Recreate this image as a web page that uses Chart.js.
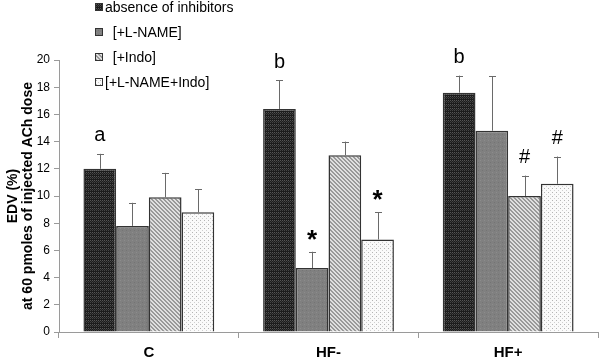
<!DOCTYPE html>
<html>
<head>
<meta charset="utf-8">
<script src="https://cdn.jsdelivr.net/npm/chart.js@4.4.1/dist/chart.umd.min.js"></script>
<style>
  html, body { margin: 0; padding: 0; background: #fff; }
  #wrap { width: 600px; height: 360px; position: relative; }
</style>
</head>
<body>
<div id="wrap"><canvas id="chart" width="600" height="360"></canvas></div>
<script>
'use strict';

// ---- Data ----
const categories  = ['C', 'HF-', 'HF+'];
const seriesNames = ['absence of inhibitors', '  [+L-NAME]', '  [+Indo]', '[+L-NAME+Indo]'];

const meanAbsent = [12.0, 16.4, 17.6];
const meanLName  = [7.8, 4.7, 14.8];
const meanIndo   = [9.9, 13.0, 10.0];
const meanBoth   = [8.8, 6.8, 10.9];

const errAbsent = [1.1, 2.1, 1.25];
const errLName  = [1.7, 1.2, 4.0];
const errIndo   = [1.8, 1.0, 1.5];
const errBoth   = [1.7, 2.0, 2.0];

// significance marks drawn above the error bars
const markAbsent = ['a', 'b', 'b'];
const markLName  = ['', '*', ''];
const markIndo   = ['', '', '#'];
const markBoth   = ['', '*', '#'];

const yTicks = [0, 2, 4, 6, 8, 10, 12, 14, 16, 18, 20];

// ---- Fill patterns ----
function makePattern(size, draw) {
  const c = document.createElement('canvas');
  c.width = size; c.height = size;
  const g = c.getContext('2d');
  draw(g);
  return g.createPattern(c, 'repeat');
}
function px(g, x, y, col) { g.fillStyle = col; g.fillRect(x, y, 1, 1); }

const patDark = makePattern(4, g => {
  g.fillStyle = '#1c1c1c'; g.fillRect(0, 0, 4, 4);
  px(g, 0, 0, '#555'); px(g, 2, 0, '#555');
  px(g, 1, 1, '#3a3a3a'); px(g, 3, 1, '#3a3a3a');
  px(g, 0, 2, '#444'); px(g, 2, 2, '#444');
});
const patGray = makePattern(4, g => {
  g.fillStyle = '#808080'; g.fillRect(0, 0, 4, 4);
  px(g, 0, 0, '#8c8c8c'); px(g, 2, 2, '#747474');
});
const patStripe = makePattern(4, g => {
  for (let x = 0; x < 4; x++) {
    for (let y = 0; y < 4; y++) {
      const d = ((x - y) % 4 + 4) % 4;
      px(g, x, y, d < 2 ? '#999999' : '#e0e0e0');
    }
  }
});
const patDots = makePattern(4, g => {
  g.fillStyle = '#fafafa'; g.fillRect(0, 0, 4, 4);
  px(g, 0, 0, '#b4b4b4'); px(g, 2, 2, '#cfcfcf');
});

const fills = [patDark, patGray, patStripe, patDots];
const means = [meanAbsent, meanLName, meanIndo, meanBoth];
const errs  = [errAbsent, errLName, errIndo, errBoth];
const marks = [markAbsent, markLName, markIndo, markBoth];

const FONT = 'Arial, "Liberation Sans", sans-serif';

// ---- Error bars + marks ----
const errorBarPlugin = {
  id: 'errorBars',
  afterDatasetsDraw(chart) {
    const ctx = chart.ctx;
    const y = chart.scales.y;
    ctx.save();
    chart.data.datasets.forEach((ds, di) => {
      const meta = chart.getDatasetMeta(di);
      meta.data.forEach((bar, i) => {
        const top = y.getPixelForValue(means[di][i] + errs[di][i]);
        ctx.strokeStyle = '#6a6a6a';
        ctx.lineWidth = 1;
        ctx.beginPath();
        ctx.moveTo(Math.round(bar.x) + 0.5, bar.y);
        ctx.lineTo(Math.round(bar.x) + 0.5, top);
        ctx.moveTo(Math.round(bar.x) - 3, Math.round(top) + 0.5);
        ctx.lineTo(Math.round(bar.x) + 4, Math.round(top) + 0.5);
        ctx.stroke();

        const m = marks[di][i];
        if (m) {
          ctx.fillStyle = '#000';
          ctx.textAlign = 'center';
          ctx.textBaseline = 'middle';
          if (m === '*') {
            ctx.font = 'bold 26px ' + FONT;
            ctx.fillText(m, bar.x, top - 11);
          } else {
            ctx.font = '20px ' + FONT;
            ctx.fillText(m, bar.x, top - 18);
          }
        }
      });
    });
    ctx.restore();
  }
};

// ---- Legend drawn in the upper left ----
const legendPlugin = {
  id: 'floatLegend',
  afterDraw(chart) {
    const ctx = chart.ctx;
    ctx.save();
    ctx.font = '14px ' + FONT;
    ctx.textBaseline = 'middle';
    ctx.textAlign = 'left';
    chart.data.datasets.forEach((ds, i) => {
      const cy = 7 + i * 25;
      ctx.fillStyle = ds.backgroundColor;
      ctx.fillRect(95, cy - 4, 8, 8);
      ctx.strokeStyle = '#333';
      ctx.lineWidth = 1;
      ctx.strokeRect(95.5, cy - 3.5, 7, 7);
      ctx.fillStyle = '#000';
      ctx.fillText(ds.label, 105, cy + 1);
    });
    ctx.restore();
  }
};

const datasets = seriesNames.map((name, i) => ({
  label: name,
  data: means[i],
  backgroundColor: fills[i],
  borderColor: '#333',
  borderWidth: 1.5,
  borderSkipped: 'bottom',
  barPercentage: 1.0,
  categoryPercentage: 0.728
}));

new Chart(document.getElementById('chart'), {
  type: 'bar',
  data: { labels: categories, datasets },
  plugins: [errorBarPlugin, legendPlugin],
  options: {
    responsive: false,
    animation: false,
    devicePixelRatio: 1,
    layout: { padding: { top: 60, right: 2, left: 0, bottom: 0 } },
    plugins: {
      legend: { display: false },
      tooltip: { enabled: false }
    },
    scales: {
      x: {
        grid: {
          offset: true,
          drawOnChartArea: false,
          drawTicks: true,
          tickLength: 6,
          color: '#9a9a9a'
        },
        border: { color: '#9a9a9a', width: 1 },
        ticks: {
          color: '#000',
          padding: 6,
          font: { family: FONT, size: 15, weight: 'bold' }
        },
        afterFit: s => { s.height = 28; }
      },
      y: {
        min: 0,
        max: 20,
        afterBuildTicks: s => { s.ticks = yTicks.map(v => ({ value: v })); },
        grid: {
          drawOnChartArea: false,
          drawTicks: true,
          tickLength: 5,
          color: '#9a9a9a'
        },
        border: { color: '#9a9a9a', width: 1 },
        ticks: {
          color: '#000',
          padding: 4,
          font: { family: FONT, size: 12 }
        },
        title: {
          display: true,
          text: ['EDV (%)', 'at 60 pmoles of injected ACh dose'],
          color: '#000',
          font: { family: FONT, size: 14, weight: 'bold', lineHeight: 1.1 },
          padding: { top: 5, bottom: 0 }
        },
        afterFit: s => { s.width = 59; }
      }
    }
  }
});
</script>
</body>
</html>
